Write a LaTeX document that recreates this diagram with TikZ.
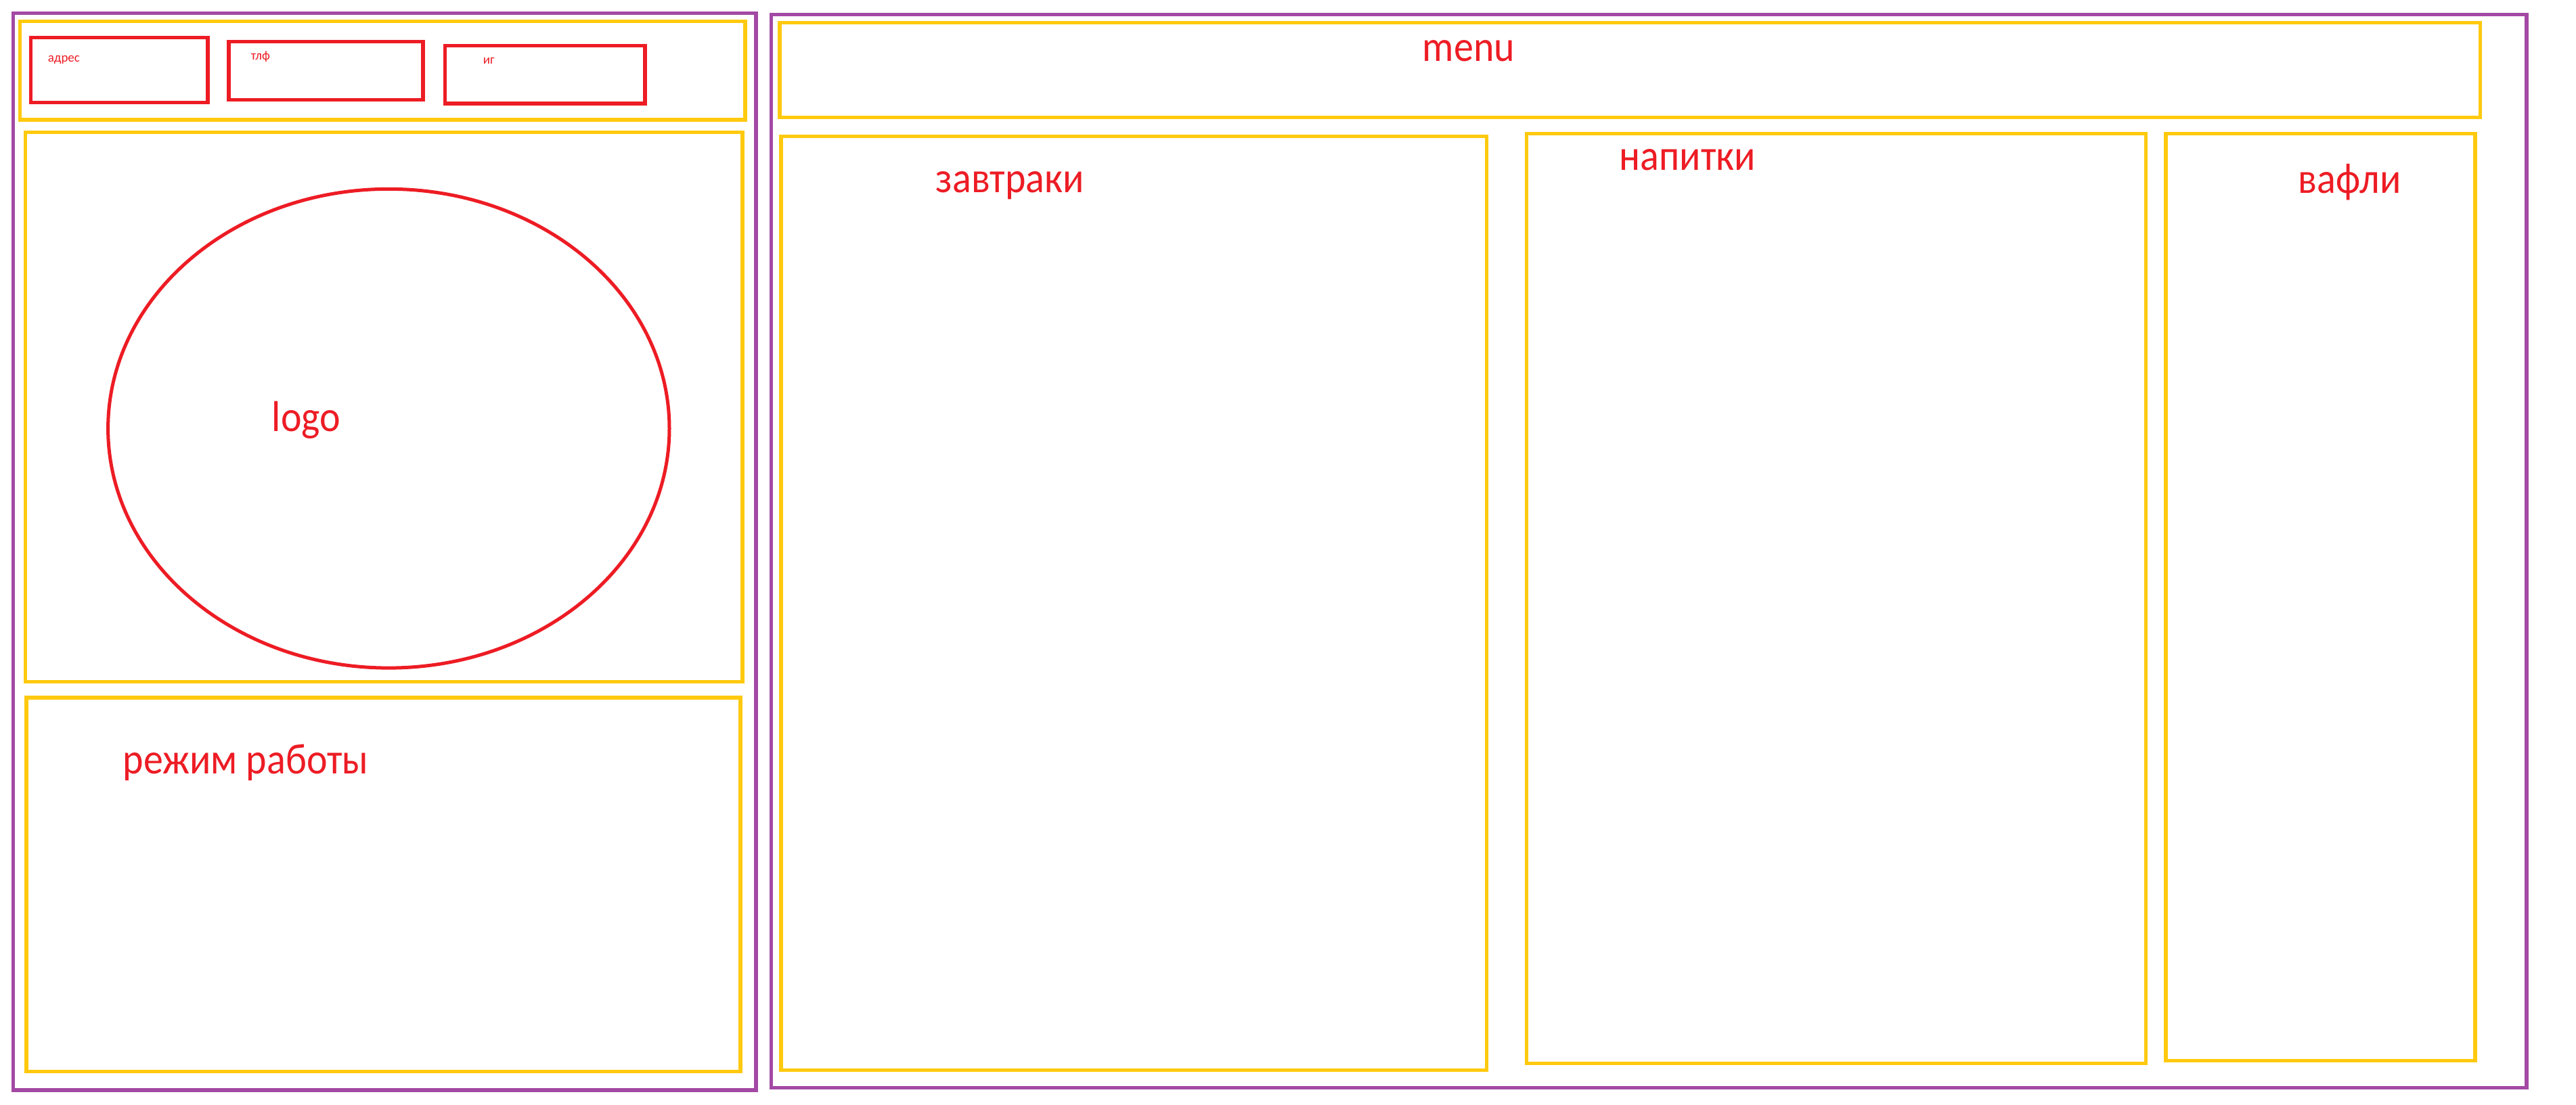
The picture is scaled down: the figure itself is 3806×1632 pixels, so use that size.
\documentclass[tikz,border=0pt]{standalone}
\usepackage{fontspec}
\usepackage{graphicx}
\setmainfont{Carlito}
\usetikzlibrary{fit,shapes.geometric}
\definecolor{ppurple}{HTML}{A349A4}
\definecolor{pyellow}{HTML}{FFC90E}
\definecolor{pred}{HTML}{ED1C24}
\newcommand{\tallt}[1]{\scalebox{1}[1.1]{#1}}
\tikzset{
  pbox/.style={draw=ppurple, line width=1.3pt, inner sep=0pt},
  ybox/.style={draw=pyellow, line width=1.3pt, inner sep=0pt},
  rbox/.style={draw=pred, line width=1.3pt, inner sep=0pt},
  bigtxt/.style={text=pred, inner sep=0pt, anchor=base west, font=\fontsize{14.5pt}{16pt}\selectfont},
  smalltxt/.style={text=pred, inner sep=0pt, anchor=base west, font=\fontsize{4.75pt}{5.5pt}\selectfont},
}
\begin{document}
\begin{tikzpicture}[x=0.25pt, y=-0.25pt]
\useasboundingbox[fill=white] (0,0) rectangle (3806,1632);
% left column
\node[pbox, fit={(19.4,19.5) (1117,1611)}] (leftframe) {};
\node[ybox, fit={(29.6,31.5) (1101,177)}] (header) {};
\node[rbox, fit={(45.8,55.3) (307,151.3)}] (adrbox) {};
\node[rbox, fit={(338,61.3) (625,147.3)}] (tlfbox) {};
\node[rbox, fit={(657.5,67.3) (953,153)}] (igbox) {};
\node[ybox, fit={(37.6,195.5) (1097,1007.5)}] (logobox) {};
\node[draw=pred, line width=1.25pt, ellipse, inner sep=0pt, minimum width=207.35pt, minimum height=176.95pt] (logoell) at (574.3,633.2) {};
\node[ybox, fit={(39,1031) (1094,1583.5)}] (hoursbox) {};
% right column
\node[pbox, fit={(1139.4,21.5) (3733,1607.3)}] (rightframe) {};
\node[ybox, fit={(1152,33.5) (3664.5,173.3)}] (menubox) {};
\node[ybox, fit={(1154,201.3) (2196.7,1581.3)}] (breakfastbox) {};
\node[ybox, fit={(2255.5,197.3) (3170.5,1571.3)}] (drinksbox) {};
\node[ybox, fit={(3200,197.5) (3657,1567.3)}] (wafflebox) {};
% labels
\node[smalltxt] (adr) at (70,91) {адрес};
\node[smalltxt] (tlf) at (370,88) {тлф};
\node[smalltxt] (ig) at (713,94) {иг};
\node[bigtxt] (logo) at (401,637) {\tallt{logo}};
\node[bigtxt] (hours) at (181,1143) {\tallt{режим работы}};
\node[bigtxt] (menu) at (2101,90) {\tallt{menu}};
\node[bigtxt] (breakfast) at (1382,284) {\tallt{завтраки}};
\node[bigtxt] (drinks) at (2392,251.7) {\tallt{напитки}};
\node[bigtxt] (waffles) at (3395,285.7) {\tallt{вафли}};
\end{tikzpicture}
\end{document}
